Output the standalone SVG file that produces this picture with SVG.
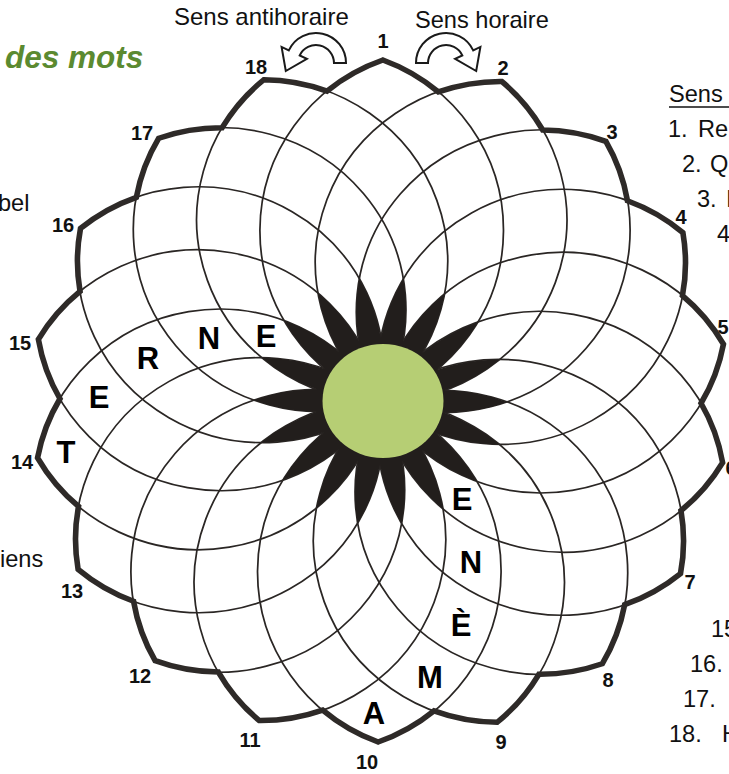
<svg xmlns="http://www.w3.org/2000/svg" width="729" height="774" viewBox="0 0 729 774">
<style>
.arc{fill:none;stroke:#2a2624;stroke-width:1.7}
.outline{fill:none;stroke:#2e2a28;stroke-width:5.5;stroke-linejoin:miter;stroke-miterlimit:6}
.star{fill:#221e1c}
.num{font-family:"Liberation Sans",Arial,sans-serif;font-weight:bold;font-size:20px;fill:#111;text-anchor:middle}
.let{font-family:"Liberation Sans",Arial,sans-serif;font-weight:bold;font-size:31px;fill:#000;text-anchor:middle}
.txt{font-family:"Liberation Sans",Arial,sans-serif;font-size:23.6px;fill:#111}
.arrow{fill:#fff;stroke:#1a1a1a;stroke-width:2;stroke-linejoin:miter}
</style>
<rect width="729" height="774" fill="#fff"/>
<text x="5" y="68" style="font-family:'Liberation Sans',Arial,sans-serif;font-weight:bold;font-style:italic;font-size:31.5px;fill:#5b8a30">des mots</text>

<g id="rosace" transform="translate(380.5,401) rotate(0.4) scale(1.02,1)">
<g id="connectors">
<path class="arc" d="M0,-341A181.44 181.44 0 0 1 0 0M116.63,-320.43A181.44 181.44 0 0 1 0 0M219.19,-261.22A181.44 181.44 0 0 1 0 0M295.31,-170.5A181.44 181.44 0 0 1 0 0M335.82,-59.21A181.44 181.44 0 0 1 0 0M335.82,59.21A181.44 181.44 0 0 1 0 0M295.31,170.5A181.44 181.44 0 0 1 0 0M219.19,261.22A181.44 181.44 0 0 1 0 0M116.63,320.43A181.44 181.44 0 0 1 0 0M0,341A181.44 181.44 0 0 1 0 0M-116.63,320.43A181.44 181.44 0 0 1 0 0M-219.19,261.22A181.44 181.44 0 0 1 0 0M-295.31,170.5A181.44 181.44 0 0 1 0 0M-335.82,59.21A181.44 181.44 0 0 1 0 0M-335.82,-59.21A181.44 181.44 0 0 1 0 0M-295.31,-170.5A181.44 181.44 0 0 1 0 0M-219.19,-261.22A181.44 181.44 0 0 1 0 0M-116.63,-320.43A181.44 181.44 0 0 1 0 0"/>
<path class="arc" d="M0,-341A181.44 181.44 0 0 0 0 0M116.63,-320.43A181.44 181.44 0 0 0 0 0M219.19,-261.22A181.44 181.44 0 0 0 0 0M295.31,-170.5A181.44 181.44 0 0 0 0 0M335.82,-59.21A181.44 181.44 0 0 0 0 0M335.82,59.21A181.44 181.44 0 0 0 0 0M295.31,170.5A181.44 181.44 0 0 0 0 0M219.19,261.22A181.44 181.44 0 0 0 0 0M116.63,320.43A181.44 181.44 0 0 0 0 0M0,341A181.44 181.44 0 0 0 0 0M-116.63,320.43A181.44 181.44 0 0 0 0 0M-219.19,261.22A181.44 181.44 0 0 0 0 0M-295.31,170.5A181.44 181.44 0 0 0 0 0M-335.82,59.21A181.44 181.44 0 0 0 0 0M-335.82,-59.21A181.44 181.44 0 0 0 0 0M-295.31,-170.5A181.44 181.44 0 0 0 0 0M-219.19,-261.22A181.44 181.44 0 0 0 0 0M-116.63,-320.43A181.44 181.44 0 0 0 0 0"/>
</g>
<g id="star">
<path class="star" d="M21.55,-122.22A181.44 181.44 0 0 1 21.55,-59.21A181.44 181.44 0 0 1 62.06,-107.48A181.44 181.44 0 0 1 40.5,-48.27A181.44 181.44 0 0 1 95.07,-79.78A181.44 181.44 0 0 1 54.57,-31.51A181.44 181.44 0 0 1 116.63,-42.45A181.44 181.44 0 0 1 62.05,-10.94A181.44 181.44 0 0 1 124.11,0A181.44 181.44 0 0 1 62.05,10.94A181.44 181.44 0 0 1 116.63,42.45A181.44 181.44 0 0 1 54.57,31.51A181.44 181.44 0 0 1 95.07,79.78A181.44 181.44 0 0 1 40.5,48.27A181.44 181.44 0 0 1 62.06,107.48A181.44 181.44 0 0 1 21.55,59.21A181.44 181.44 0 0 1 21.55,122.22A181.44 181.44 0 0 1 0,63.01A181.44 181.44 0 0 1 -21.55,122.22A181.44 181.44 0 0 1 -21.55,59.21A181.44 181.44 0 0 1 -62.06,107.48A181.44 181.44 0 0 1 -40.5,48.27A181.44 181.44 0 0 1 -95.07,79.78A181.44 181.44 0 0 1 -54.57,31.51A181.44 181.44 0 0 1 -116.63,42.45A181.44 181.44 0 0 1 -62.05,10.94A181.44 181.44 0 0 1 -124.11,0A181.44 181.44 0 0 1 -62.05,-10.94A181.44 181.44 0 0 1 -116.63,-42.45A181.44 181.44 0 0 1 -54.57,-31.51A181.44 181.44 0 0 1 -95.07,-79.78A181.44 181.44 0 0 1 -40.5,-48.27A181.44 181.44 0 0 1 -62.06,-107.48A181.44 181.44 0 0 1 -21.55,-59.21A181.44 181.44 0 0 1 -21.55,-122.22A181.44 181.44 0 0 1 0,-63.01A181.44 181.44 0 0 1 21.55,-122.22Z"/>
</g>
<g id="outline">
<path class="outline" d="M0,-341A181.44 181.44 0 0 1 54.57,-309.49A181.44 181.44 0 0 1 116.63,-320.43A181.44 181.44 0 0 1 157.13,-272.16A181.44 181.44 0 0 1 219.19,-261.22A181.44 181.44 0 0 1 240.74,-202A181.44 181.44 0 0 1 295.31,-170.5A181.44 181.44 0 0 1 295.31,-107.48A181.44 181.44 0 0 1 335.82,-59.21A181.44 181.44 0 0 1 314.26,0A181.44 181.44 0 0 1 335.82,59.21A181.44 181.44 0 0 1 295.31,107.48A181.44 181.44 0 0 1 295.31,170.5A181.44 181.44 0 0 1 240.74,202A181.44 181.44 0 0 1 219.19,261.22A181.44 181.44 0 0 1 157.13,272.16A181.44 181.44 0 0 1 116.63,320.43A181.44 181.44 0 0 1 54.57,309.49A181.44 181.44 0 0 1 0,341A181.44 181.44 0 0 1 -54.57,309.49A181.44 181.44 0 0 1 -116.63,320.43A181.44 181.44 0 0 1 -157.13,272.16A181.44 181.44 0 0 1 -219.19,261.22A181.44 181.44 0 0 1 -240.74,202A181.44 181.44 0 0 1 -295.31,170.5A181.44 181.44 0 0 1 -295.31,107.48A181.44 181.44 0 0 1 -335.82,59.21A181.44 181.44 0 0 1 -314.26,0A181.44 181.44 0 0 1 -335.82,-59.21A181.44 181.44 0 0 1 -295.31,-107.48A181.44 181.44 0 0 1 -295.31,-170.5A181.44 181.44 0 0 1 -240.74,-202A181.44 181.44 0 0 1 -219.19,-261.22A181.44 181.44 0 0 1 -157.13,-272.16A181.44 181.44 0 0 1 -116.63,-320.43A181.44 181.44 0 0 1 -54.57,-309.49A181.44 181.44 0 0 1 0,-341Z"/>
</g>
</g>
<g id="center">
<ellipse cx="383" cy="401" rx="60.5" ry="57" fill="#b6ce74"/>
</g>

<g id="tip-labels">
<text class="num" x="383" y="48">1</text>
<text class="num" x="503" y="75">2</text>
<text class="num" x="612" y="139">3</text>
<text class="num" x="681" y="224">4</text>
<text class="num" x="723" y="334">5</text>
<text class="num" x="731" y="475">6</text>
<text class="num" x="690" y="589">7</text>
<text class="num" x="608" y="687">8</text>
<text class="num" x="501" y="749">9</text>
<text class="num" x="367" y="769">10</text>
<text class="num" x="250" y="747">11</text>
<text class="num" x="140" y="683">12</text>
<text class="num" x="72" y="598">13</text>
<text class="num" x="22" y="469">14</text>
<text class="num" x="20" y="350">15</text>
<text class="num" x="63" y="232">16</text>
<text class="num" x="142" y="140">17</text>
<text class="num" x="256" y="74">18</text>
</g>

<g id="letters">
<text class="let" x="66" y="463">T</text>
<text class="let" x="99" y="408">E</text>
<text class="let" x="148" y="369">R</text>
<text class="let" x="209" y="349">N</text>
<text class="let" x="266" y="347">E</text>
<text class="let" x="374" y="724">A</text>
<text class="let" x="430" y="688">M</text>
<text class="let" x="461" y="636">È</text>
<text class="let" x="471" y="573">N</text>
<text class="let" x="462" y="510">E</text>
</g>

<g id="direction-ccw">
<text class="txt" x="174" y="25" style="font-size:24px">Sens antihoraire</text>
<path class="arrow" transform="translate(762,0) scale(-1,1)" d="M416,63A30 30 0 0 1 473.2,50.3L480.4,46.9L476.2,71L455.1,58.8L462.3,55.4A18 18 0 0 0 428,63Z"/>
</g>
<g id="direction-cw">
<text class="txt" x="415" y="28">Sens horaire</text>
<path class="arrow" d="M416,63A30 30 0 0 1 473.2,50.3L480.4,46.9L476.2,71L455.1,58.8L462.3,55.4A18 18 0 0 0 428,63Z"/>
</g>

<g id="list-right">
<text class="txt" x="669" y="102">Sens</text>
<line x1="669" y1="107" x2="729" y2="107" stroke="#111" stroke-width="1.6"/>
<text class="txt" x="668" y="137">1.<tspan x="698">Re</tspan></text>
<text class="txt" x="682" y="172">2.<tspan x="710">Q</tspan></text>
<text class="txt" x="697" y="207">3.<tspan x="726">I</tspan></text>
<text class="txt" x="717" y="242">4.</text>
<text class="txt" x="711" y="637">15.</text>
<text class="txt" x="690" y="672">16.</text>
<text class="txt" x="683" y="707">17.</text>
<text class="txt" x="669" y="742">18.<tspan x="722">H</tspan></text>
</g>
<g id="list-left">
<text class="txt" x="-2" y="211">bel</text>
<text class="txt" x="0" y="567">iens</text>
</g>
</svg>
